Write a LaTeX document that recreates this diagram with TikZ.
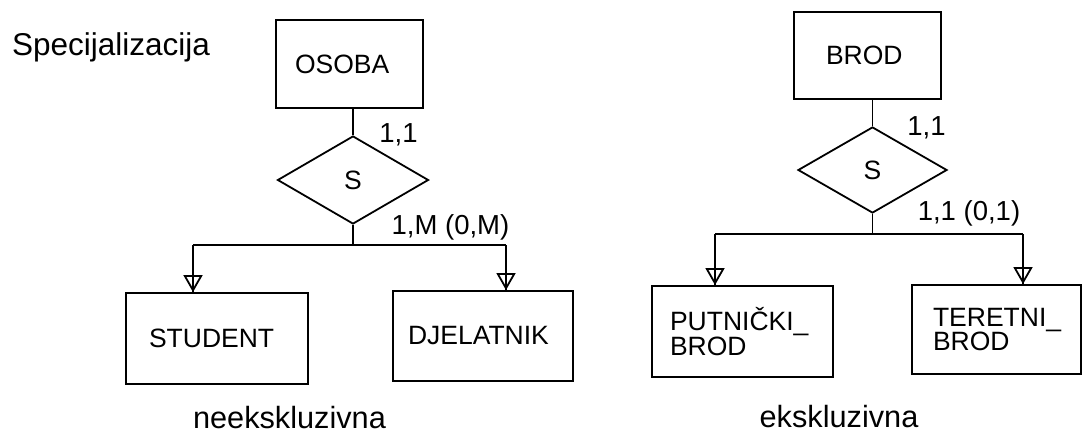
\documentclass[tikz,border=0pt]{standalone}
\usepackage{fontspec}
\setmainfont{Liberation Sans}
\usetikzlibrary{shapes.geometric,arrows.meta}
\begin{document}
\begin{tikzpicture}[x=1pt,y=-1pt,
  entity/.style={draw, line width=1.8pt, inner ysep=0pt, align=left, font=\fontsize{26.5}{23.5}\selectfont},
  rel/.style={draw, diamond, line width=1.8pt, inner sep=0pt, font=\fontsize{26.5}{30}\selectfont},
  card/.style={inner sep=0pt, font=\fontsize{27.5}{32}\selectfont},
  conn/.style={line width=1.8pt},
  isa/.style={conn, -{Triangle[open, width=19pt, length=17pt]}},
  caption/.style={inner sep=0pt, anchor=base, font=\fontsize{30.7}{36}\selectfont}]
\useasboundingbox (0,0) rectangle (1083,434);

% title
\node[inner sep=0pt, anchor=base west, font=\fontsize{31.5}{38}\selectfont] (title) at (12,55) {Specijalizacija};

% left diagram
\node[entity, minimum height=88pt, text width=109pt, inner xsep=19pt] (osoba) at (349.5,64) {OSOBA};
\node[rel, minimum width=151pt, minimum height=88pt] (s1) at (353,180) {S};
\node[entity, minimum height=91pt, text width=136pt, inner xsep=23pt] (stud) at (217,338.5) {STUDENT};
\node[entity, minimum height=90pt, text width=150pt, inner xsep=15pt] (djel) at (483,336) {DJELATNIK};

\coordinate (j1) at (353,245);
\coordinate (l1) at (193,245);
\coordinate (r1) at (506,245);
\draw[conn] (osoba.south -| s1.north) -- (s1.north);
\draw[conn] (s1.south) -- (j1);
\draw[conn] (l1) -- (r1);
\draw[conn] (l1) -- (l1 |- stud.north);
\draw[isa] (l1) -- (l1 |- stud.north);
\draw[conn] (r1) -- (r1 |- djel.north);
\draw[isa] (r1) -- (r1 |- djel.north);

\node[card] (c1) at (398.5,135) {1,1};
\node[card] (c2) at (450.5,227) {1,M (0,M)};
\node[caption] (nek) at (289.5,428) {neekskluzivna};

% right diagram
\node[entity, minimum height=87pt, text width=83pt, inner xsep=32pt] (brod) at (867.5,55.5) {BROD};
\node[rel, minimum width=149pt, minimum height=86pt] (s2) at (872.5,170) {S};
\node[entity, minimum height=91pt, text width=145pt, inner xsep=18pt] (putn) at (742.5,331.5) {PUTNIČKI\_\\BROD};
\node[entity, minimum height=89pt, text width=127pt, inner xsep=21pt] (ter) at (996.5,329.5) {TERETNI\_\\BROD};

\coordinate (j2) at (872.5,234);
\coordinate (l2) at (715,234);
\coordinate (r2) at (1023,234);
\draw[conn] (brod.south -| s2.north) -- (s2.north);
\draw[conn] (s2.south) -- (j2);
\draw[conn] (l2) -- (r2);
\draw[conn] (l2) -- (l2 |- putn.north);
\draw[isa] (l2) -- (l2 |- putn.north);
\draw[conn] (r2) -- (r2 |- ter.north);
\draw[isa] (r2) -- (r2 |- ter.north);

\node[card] (c3) at (926.5,128) {1,1};
\node[card] (c4) at (969,213) {1,1 (0,1)};
\node[caption] (eks) at (839,427) {ekskluzivna};
\end{tikzpicture}
\end{document}
